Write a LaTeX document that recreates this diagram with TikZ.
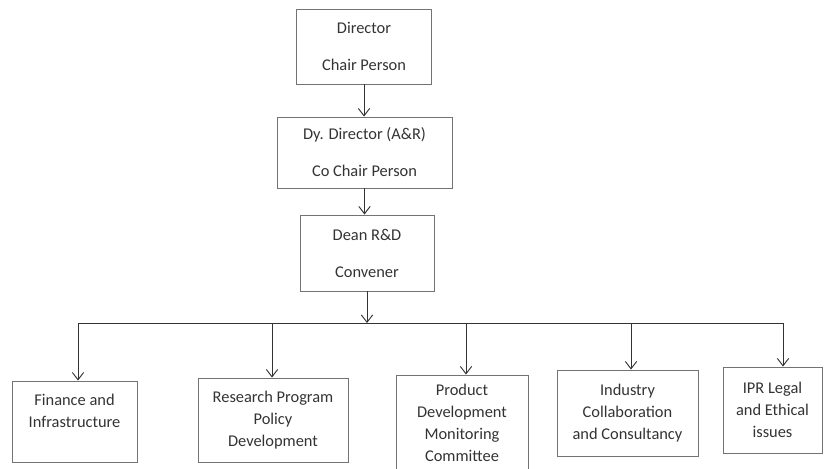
\documentclass[tikz,border=0pt]{standalone}
\usepackage{fontspec}
\setmainfont{Carlito}
\usetikzlibrary{positioning}
\usetikzlibrary{arrows.meta}
\tikzset{
	every node/.style = {font=\fontsize{14}{18.7}\selectfont, text=black!80},
	headbox/.style = {draw=black!55, line width=0.8pt, align=center, font=\fontsize{14}{31.5}\selectfont},
	unitbox/.style = {draw=black!55, line width=0.8pt, align=center},
	link/.style = {-{Straight Barb[length=2.2mm,width=3.4mm]}, line width=0.8pt, black!80}
}

\begin{document}
\begin{tikzpicture}[x=0.03cm, y=-0.03cm]
		\useasboundingbox (0,0) rectangle (825,468);
		% heads
		\node[headbox, minimum width=4.05cm, minimum height=2.25cm] (dir) at (364,46.5) {Director\\Chair Person};
		\node[headbox, minimum width=5.25cm, minimum height=2.13cm] (dydir) at (364.5,152.5) {Dy. Director (A\&R)\\Co Chair Person};
		\node[headbox, minimum width=4.02cm, minimum height=2.28cm] (dean) at (367,253) {Dean R\&D\\Convener};
		
		\draw[link] (dir.south) -- (dir.south |- dydir.north);
		\draw[link] (dydir.south) -- (dydir.south |- dean.north);
		
		% committees
		\node[unitbox, minimum width=3.75cm, minimum height=2.43cm] (fin) at (74.5,421.5) {Finance and\\Infrastructure\\~};
		\node[unitbox, minimum width=4.5cm, minimum height=2.52cm] (rpp) at (273,420) {Research Program\\Policy\\Development};
		\node[unitbox, minimum width=3.96cm, minimum height=2.88cm] (pdm) at (462,423) {Product\\Development\\Monitoring\\Committee};
		\node[unitbox, minimum width=4.23cm, minimum height=2.58cm] (ind) at (627.5,413) {Industry\\Collaboration\\and Consultancy};
		\node[unitbox, minimum width=2.97cm, minimum height=2.58cm] (ipr) at (772.5,410) {IPR Legal\\and Ethical\\issues};
		
		% bus
		\coordinate (hub) at (dean.south |- 0,323);
		\draw[link] (dean.south) -- (hub);
		\foreach \x [count=\i] in {78, 272, 466, 631, 783}
			\coordinate (b\i) at (\x,323);
		\draw[line width=0.8pt, black!80] (b1) -- (b5);
		\foreach \b/\n in {b1/fin, b2/rpp, b3/pdm, b4/ind, b5/ipr}
			\draw[link] (\b) -- (\b |- \n.north);
	\end{tikzpicture}
\end{document}
